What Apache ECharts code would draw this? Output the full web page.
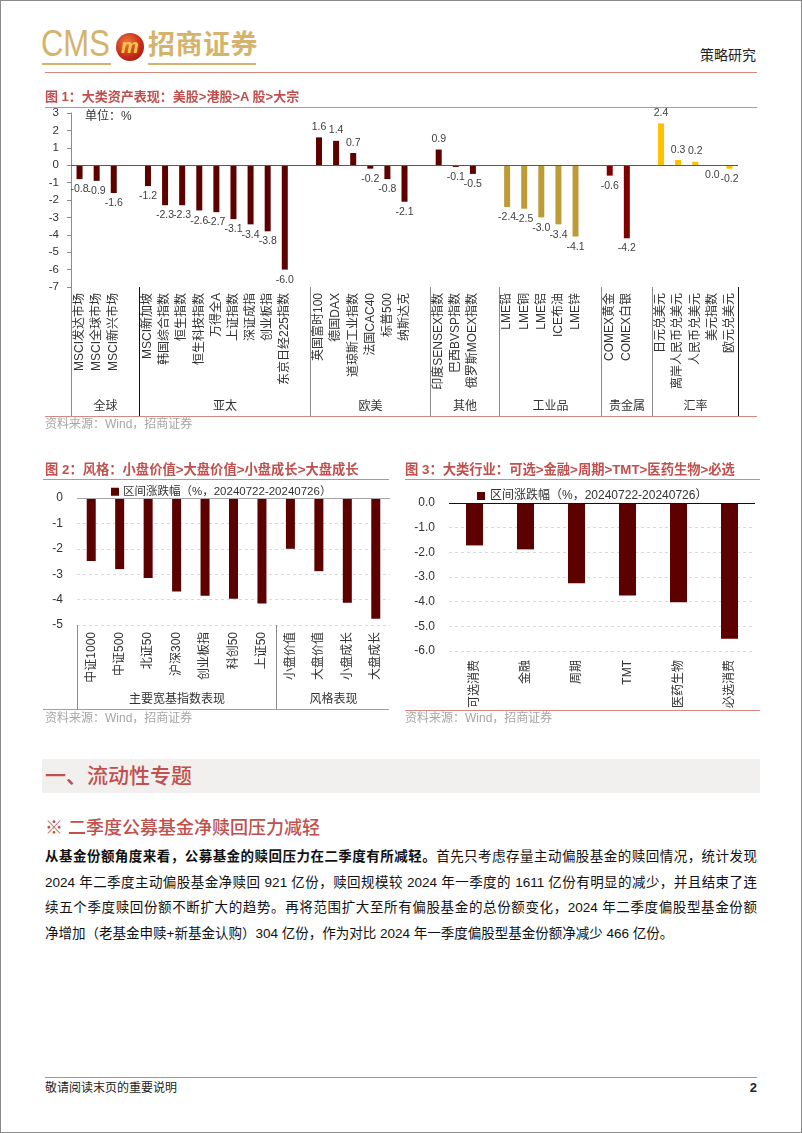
<!DOCTYPE html>
<html><head><meta charset="utf-8">
<script src="https://cdn.jsdelivr.net/npm/echarts@6/dist/echarts.min.js"></script>
<style>
html,body{margin:0;padding:0;background:#fff;}
body{width:802px;height:1133px;position:relative;overflow:hidden;font-family:"Liberation Sans","Noto Sans CJK SC",sans-serif;color:#222;}
.a{position:absolute;}
.frame{left:0;top:0;width:802px;height:1133px;box-sizing:border-box;border:1px solid #8a8a8a;pointer-events:none;}
.hl{height:1px;background:#d8887c;}
.ttl{font-size:13.3px;font-weight:bold;color:#c0504d;line-height:16px;white-space:nowrap;}
.src{font-size:12px;color:#a6a6a6;line-height:14px;white-space:nowrap;}
.chart{position:absolute;}
.para{left:45px;top:844px;width:712px;font-size:13.5px;line-height:25.7px;color:#111;}
.para div{white-space:nowrap;text-align:justify;text-align-last:justify;}
.para div.last{text-align:left;text-align-last:left;}
</style></head>
<body>
<!-- header -->
<div class="a" style="left:41px;top:23px;font-size:36px;color:#d5b36c;line-height:42px;transform:scaleX(0.86);transform-origin:left top;">CMS</div>
<div class="a" style="left:42px;top:63px;width:69px;height:2px;background:#d5b36c;"></div>
<div class="a" style="left:116px;top:33px;width:28px;height:28px;border-radius:50%;background:radial-gradient(circle at 40% 35%,#f07a3a,#c0281a 60%,#8a1408);"></div>
<div class="a" style="left:118px;top:32px;width:24px;text-align:center;font-size:20px;font-weight:bold;font-style:italic;color:#f7c84a;line-height:28px;">m</div>
<div class="a" style="left:148px;top:28px;font-size:27px;font-weight:bold;color:#d5b36c;line-height:34px;letter-spacing:0.5px;">招商证券</div>
<div class="a" style="left:148px;top:63px;width:108px;height:2px;background:#d5b36c;"></div>
<div class="a" style="left:700px;top:46px;font-size:14px;color:#222;line-height:18px;">策略研究</div>
<div class="a hl" style="left:45px;top:72px;width:712px;"></div>

<!-- figure 1 -->
<div id="c1" class="chart" style="left:0;top:100px;width:802px;height:330px;"></div>
<div class="a ttl" style="left:45px;top:89px;font-size:13px;">图 1：大类资产表现：美股&gt;港股&gt;A 股&gt;大宗</div>
<div class="a hl" style="left:45px;top:107px;width:712px;"></div>
<div class="a" style="left:85px;top:109px;font-size:12px;color:#333;line-height:14px;">单位：%</div>
<div class="a hl" style="left:45px;top:416px;width:712px;"></div>
<div class="a src" style="left:45px;top:417px;">资料来源：Wind，招商证券</div>

<!-- figure 2 -->
<div id="c2" class="chart" style="left:0;top:440px;width:400px;height:290px;"></div>
<div class="a ttl" style="left:45px;top:462px;">图 2：风格：小盘价值&gt;大盘价值&gt;小盘成长&gt;大盘成长</div>
<div class="a hl" style="left:43px;top:479px;width:346px;"></div>
<div class="a hl" style="left:43px;top:709px;width:346px;"></div>
<div class="a src" style="left:45px;top:711px;">资料来源：Wind，招商证券</div>

<!-- figure 3 -->
<div id="c3" class="chart" style="left:400px;top:440px;width:402px;height:290px;"></div>
<div class="a ttl" style="left:405px;top:462px;">图 3：大类行业：可选&gt;金融&gt;周期&gt;TMT&gt;医药生物&gt;必选</div>
<div class="a hl" style="left:405px;top:479px;width:355px;"></div>
<div class="a hl" style="left:405px;top:710px;width:355px;"></div>
<div class="a src" style="left:405px;top:711px;">资料来源：Wind，招商证券</div>

<!-- text section -->
<div class="a" style="left:42px;top:759px;width:718px;height:34px;background:#f2f0ef;"></div>
<div class="a" style="left:45px;top:759px;font-size:21px;line-height:34px;color:#c0504d;font-weight:500;">一、流动性专题</div>
<div class="a" style="left:45px;top:815px;font-size:18px;line-height:26px;color:#c0504d;font-weight:500;">※ 二季度公募基金净赎回压力减轻</div>
<div class="a para">
<div><b>从基金份额角度来看，公募基金的赎回压力在二季度有所减轻。</b>首先只考虑存量主动偏股基金的赎回情况，统计发现</div>
<div>2024 年二季度主动偏股基金净赎回 921 亿份，赎回规模较 2024 年一季度的 1611 亿份有明显的减少，并且结束了连</div>
<div>续五个季度赎回份额不断扩大的趋势。再将范围扩大至所有偏股基金的总份额变化，2024 年二季度偏股型基金份额</div>
<div class="last">净增加（老基金申赎+新基金认购）304 亿份，作为对比 2024 年一季度偏股型基金份额净减少 466 亿份。</div>
</div>

<!-- footer -->
<div class="a" style="left:45px;top:1077px;width:712px;height:1px;background:#999;"></div>
<div class="a" style="left:45px;top:1081px;font-size:12px;line-height:14px;color:#222;">敬请阅读末页的重要说明</div>
<div class="a" style="left:745px;top:1080px;width:12px;text-align:right;font-size:13px;font-weight:bold;line-height:15px;">2</div>
<div class="a frame"></div>

<script>
// ---------- Data ----------
const groupNames = ['全球','亚太','欧美','其他','工业品','贵金属','汇率'];
const globalCats = ['MSCI发达市场','MSCI全球市场','MSCI新兴市场'];
const globalVals = [-0.8,-0.9,-1.6];
const asiaCats = ['MSCI新加坡','韩国综合指数','恒生指数','恒生科技指数','万得全A','上证指数','深证成指','创业板指','东京日经225指数'];
const asiaVals = [-1.2,-2.3,-2.3,-2.6,-2.7,-3.1,-3.4,-3.8,-6.0];
const euusCats = ['英国富时100','德国DAX','道琼斯工业指数','法国CAC40','标普500','纳斯达克'];
const euusVals = [1.6,1.4,0.7,-0.2,-0.8,-2.1];
const otherCats = ['印度SENSEX指数','巴西BVSP指数','俄罗斯MOEX指数'];
const otherVals = [0.9,-0.1,-0.5];
const commodCats = ['LME铅','LME铜','LME铝','ICE布油','LME锌'];
const commodVals = [-2.4,-2.5,-3.0,-3.4,-4.1];
const metalCats = ['COMEX黄金','COMEX白银'];
const metalVals = [-0.6,-4.2];
const fxCats = ['日元兑美元','离岸人民币兑美元','人民币兑美元','美元指数','欧元兑美元'];
const fxVals = [2.4,0.3,0.2,0.0,-0.2];
const fig1YTicks = {min:-7, max:3, interval:1};

const fig2Cats = ['中证1000','中证500','北证50','沪深300','创业板指','科创50','上证50','小盘价值','大盘价值','小盘成长','大盘成长'];
const fig2Vals = [-2.48,-2.8,-3.15,-3.68,-3.85,-3.97,-4.15,-2.0,-2.88,-4.12,-4.75];
const fig2Groups = ['主要宽基指数表现','风格表现'];
const fig2GroupSizes = [7,4];
const fig2YTicks = {min:-5, max:0, interval:1};

const fig3Cats = ['可选消费','金融','周期','TMT','医药生物','必选消费'];
const fig3Vals = [-1.72,-1.88,-3.25,-3.75,-4.02,-5.5];
const fig3YTicks = {min:-6, max:0, interval:1};

const seriesName = '区间涨跌幅（%，20240722-20240726）';

// ---------- Styles ----------
const FF = "'Liberation Sans','Noto Sans CJK SC',sans-serif";
const DARK = '#5c0000';
const groupColors = [DARK, DARK, DARK, DARK, '#bf9b37', '#800000', '#ffc000'];

// ---------- Figure 1 ----------
const fig1Groups = [
  [globalCats, globalVals], [asiaCats, asiaVals], [euusCats, euusVals],
  [otherCats, otherVals], [commodCats, commodVals], [metalCats, metalVals], [fxCats, fxVals]
];
const slotCats = [], slotItems = [], groupStart = [];
fig1Groups.forEach(([cats, vals], gi) => {
  groupStart.push(slotCats.length);
  cats.forEach((c, i) => {
    const v = vals[i];
    slotCats.push(c);
    slotItems.push({
      value: v,
      itemStyle: {color: groupColors[gi]},
      label: {position: v > 0 ? 'top' : 'bottom'}
    });
  });
  if (gi < fig1Groups.length - 1) { slotCats.push(''); slotItems.push({value: '-'}); }
});

const c1 = echarts.init(document.getElementById('c1'), null, {renderer: 'canvas'});
c1.setOption({
  animation: false,
  backgroundColor: 'transparent',
  textStyle: {fontFamily: FF},
  grid: {left: 71, right: 64, top: 13, bottom: 143},
  xAxis: {
    type: 'category', data: slotCats,
    axisLine: {show: false}, axisTick: {show: false},
    axisLabel: {rotate: 90, interval: 0, fontSize: 12, color: '#333', margin: 6, fontFamily: FF}
  },
  yAxis: {
    type: 'value', min: fig1YTicks.min, max: fig1YTicks.max, interval: fig1YTicks.interval,
    axisLine: {show: true, lineStyle: {color: '#8c8c8c'}},
    axisTick: {show: true, length: 4, lineStyle: {color: '#8c8c8c'}},
    splitLine: {show: false},
    axisLabel: {fontSize: 11.5, color: '#333', margin: 12, fontFamily: FF}
  },
  series: [{
    type: 'bar', data: slotItems, barWidth: 6,
    label: {
      show: true, fontSize: 10.5, color: '#404040', distance: 5, fontFamily: FF,
      formatter: p => (typeof p.value === 'number' ? p.value.toFixed(1) : '')
    },
    markLine: {
      silent: true, symbol: 'none', label: {show: false},
      lineStyle: {color: '#595959', type: 'solid', width: 1},
      data: [{yAxis: 0}]
    }
  }]
});

function groupGraphics(chart, starts, total, names, yTop, yBot, yLab, lineColors) {
  const c0 = chart.convertToPixel({xAxisIndex: 0}, 0);
  const c1p = chart.convertToPixel({xAxisIndex: 0}, 1);
  const w = c1p - c0;
  const bound = i => Math.round(c0 - w / 2 + i * w) + 0.5;
  const els = [];
  const bs = starts.concat([total]);
  bs.forEach((s, k) => {
    const x = bound(s);
    els.push({type: 'line', silent: true, shape: {x1: x, y1: yTop, x2: x, y2: yBot},
      style: {stroke: lineColors[k] || '#8c8c8c', lineWidth: 1}});
  });
  names.forEach((n, k) => {
    const xm = (bound(bs[k]) + bound(bs[k + 1])) / 2;
    els.push({type: 'text', silent: true, x: xm, y: yLab,
      style: {text: n, fill: '#333', font: '12px ' + FF, align: 'center', verticalAlign: 'middle'}});
  });
  chart.setOption({graphic: els});
}
groupGraphics(c1, groupStart, slotCats.length, groupNames, 187, 316, 307,
  ['#8c8c8c', '#111', '#8c8c8c', '#8c8c8c', '#8c8c8c', '#8c8c8c', '#8c8c8c', '#111']);

// ---------- Figure 2 ----------
const c2 = echarts.init(document.getElementById('c2'), null, {renderer: 'canvas'});
c2.setOption({
  animation: false,
  backgroundColor: 'transparent',
  textStyle: {fontFamily: FF},
  legend: {
    top: 41, left: 106, icon: 'rect', itemWidth: 8, itemHeight: 8, itemGap: 4,
    textStyle: {fontSize: 11.5, color: '#333', fontFamily: FF, padding: [0, 0, 0, -1]}
  },
  grid: {left: 77, right: 10, top: 58, bottom: 105},
  xAxis: {
    type: 'category', data: fig2Cats,
    axisLine: {show: false}, axisTick: {show: false},
    axisLabel: {rotate: 90, interval: 0, fontSize: 12, color: '#333', margin: 7, fontFamily: FF}
  },
  yAxis: {
    type: 'value', min: fig2YTicks.min, max: fig2YTicks.max, interval: fig2YTicks.interval,
    axisLine: {show: false}, axisTick: {show: false},
    splitLine: {show: true, lineStyle: {color: '#d9d9d9', type: [3, 3]}},
    axisLabel: {fontSize: 12, color: '#333', margin: 14, fontFamily: FF}
  },
  series: [{
    name: seriesName, type: 'bar', data: fig2Vals, barWidth: 9,
    itemStyle: {color: DARK},
    markLine: {
      silent: true, symbol: 'none', label: {show: false},
      lineStyle: {color: '#a6a6a6', type: 'solid', width: 1},
      data: [{yAxis: 0}]
    }
  }]
});
const fig2Starts = [];
fig2GroupSizes.reduce((acc, n) => { fig2Starts.push(acc); return acc + n; }, 0);
groupGraphics(c2, fig2Starts, fig2Cats.length, fig2Groups, 185, 269, 260, ['#8c8c8c', '#8c8c8c', 'rgba(0,0,0,0)']);

// ---------- Figure 3 ----------
const c3 = echarts.init(document.getElementById('c3'), null, {renderer: 'canvas'});
c3.setOption({
  animation: false,
  backgroundColor: 'transparent',
  textStyle: {fontFamily: FF},
  legend: {
    top: 45, left: 72, icon: 'rect', itemWidth: 8, itemHeight: 8, itemGap: 4,
    textStyle: {fontSize: 12, color: '#333', fontFamily: FF}
  },
  grid: {left: 49, right: 47, top: 63, bottom: 79},
  xAxis: {
    type: 'category', data: fig3Cats,
    axisLine: {show: false}, axisTick: {show: false},
    axisLabel: {rotate: 90, interval: 0, fontSize: 12, color: '#333', margin: 9, fontFamily: FF}
  },
  yAxis: {
    type: 'value', min: fig3YTicks.min, max: fig3YTicks.max, interval: fig3YTicks.interval,
    axisLine: {show: false}, axisTick: {show: false},
    splitLine: {show: true, lineStyle: {color: '#d9d9d9', type: [3, 3]}},
    axisLabel: {fontSize: 12, color: '#333', margin: 14, fontFamily: FF, formatter: v => v.toFixed(1)}
  },
  series: [{
    name: seriesName, type: 'bar', data: fig3Vals, barWidth: 17,
    itemStyle: {color: DARK},
    markLine: {
      silent: true, symbol: 'none', label: {show: false},
      lineStyle: {color: '#111', type: 'solid', width: 1},
      data: [{yAxis: 0}]
    }
  }]
});
</script>
</body></html>
